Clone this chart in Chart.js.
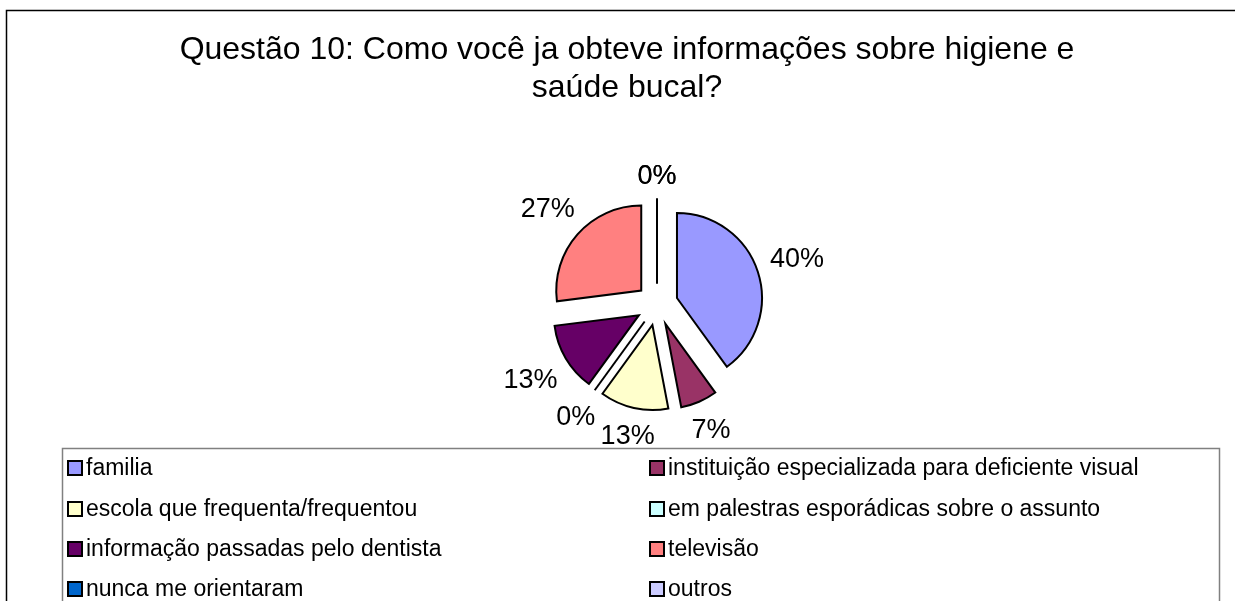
<!DOCTYPE html>
<html>
<head>
<meta charset="utf-8">
<script src="https://cdn.jsdelivr.net/npm/chart.js@4/dist/chart.umd.min.js"></script>
<style>
  body { margin: 0; background: #fff; }
  #wrap { width: 1235px; height: 601px; }
</style>
</head>
<body>
<div id="wrap"><canvas id="pie" width="1235" height="601"></canvas></div>
<script>
var titleLines = ['Questão 10: Como você ja obteve informações sobre higiene e', 'saúde bucal?'];
var categories = [
    'familia',
    'instituição especializada para deficiente visual',
    'escola que frequenta/frequentou',
    'em palestras esporádicas sobre o assunto',
    'informação passadas pelo dentista',
    'televisão',
    'nunca me orientaram',
    'outros'
];
var percents = [40, 7, 13, 0, 13, 27, 0, 0];
var colors = ['#9999FF', '#993366', '#FFFFCC', '#CCFFFF', '#660066', '#FF8080', '#0066CC', '#CCCCFF'];

var FONT = '"Liberation Sans", Arial, sans-serif';
var EXPLODE = 21;

// slices pulled out from the centre, 0% slices drawn as a line
var explodePlugin = {
    id: 'explode',
    beforeDatasetsDraw: function (chart) {
        var ctx = chart.ctx;
        var meta = chart.getDatasetMeta(0);
        meta.data.forEach(function (arc) {
            var p = arc.getProps(['x', 'y', 'startAngle', 'endAngle', 'outerRadius']);
            var mid = (p.startAngle + p.endAngle) / 2;
            ctx.save();
            ctx.translate(Math.cos(mid) * EXPLODE, Math.sin(mid) * EXPLODE);
            if (p.endAngle - p.startAngle === 0) {
                ctx.beginPath();
                ctx.moveTo(p.x, p.y);
                ctx.lineTo(p.x + Math.cos(p.startAngle) * p.outerRadius, p.y + Math.sin(p.startAngle) * p.outerRadius);
                ctx.lineWidth = 2;
                ctx.strokeStyle = '#000';
                ctx.stroke();
            } else {
                arc.draw(ctx);
            }
            ctx.restore();
        });
        return false;
    },
    afterDraw: function (chart) {
        var ctx = chart.ctx;
        var meta = chart.getDatasetMeta(0);
        var data = chart.data.datasets[0].data;
        var total = data.reduce(function (a, b) { return a + b; }, 0);
        ctx.save();

        // percentage labels
        ctx.font = '27px ' + FONT;
        ctx.fillStyle = '#000';
        ctx.textAlign = 'center';
        ctx.textBaseline = 'middle';
        meta.data.forEach(function (arc, i) {
            var p = arc.getProps(['x', 'y', 'startAngle', 'endAngle', 'outerRadius']);
            var mid = (p.startAngle + p.endAngle) / 2;
            var txt = Math.round(data[i] / total * 100) + '%';
            var w = ctx.measureText(txt).width;
            var ux = Math.cos(mid), uy = Math.sin(mid);
            var d = p.outerRadius + EXPLODE + 12 + Math.abs(ux) * w / 2 + Math.abs(uy) * 11;
            ctx.fillText(txt, p.x + ux * d, p.y + uy * d + 1);
        });

        // outer frame
        ctx.strokeStyle = '#000';
        ctx.lineWidth = 1.5;
        ctx.strokeRect(6.5, 10.5, 1300, 700);

        // title
        ctx.font = '32px ' + FONT;
        ctx.textBaseline = 'alphabetic';
        ctx.fillText(titleLines[0], 627, 59);
        ctx.fillText(titleLines[1], 627, 97);

        // legend
        ctx.strokeStyle = '#808080';
        ctx.lineWidth = 1.5;
        ctx.strokeRect(62.5, 448.5, 1157, 200);
        ctx.font = '23px ' + FONT;
        ctx.textAlign = 'left';
        ctx.textBaseline = 'middle';
        var colX = [68, 650];
        var rowY = [468, 509, 549, 589];
        chart.data.labels.forEach(function (lab, i) {
            var x = colX[i % 2], y = rowY[Math.floor(i / 2)];
            ctx.fillStyle = colors[i];
            ctx.fillRect(x, y - 7, 14, 14);
            ctx.strokeStyle = '#000';
            ctx.lineWidth = 2;
            ctx.strokeRect(x, y - 7, 14, 14);
            ctx.fillStyle = '#000';
            ctx.fillText(lab, x + 18, y + 1);
        });
        ctx.restore();
    }
};

new Chart(document.getElementById('pie').getContext('2d'), {
    type: 'pie',
    data: {
        labels: categories,
        datasets: [{
            data: percents,
            backgroundColor: colors,
            borderColor: '#000',
            borderWidth: 2,
            borderJoinStyle: 'miter',
            offset: 0,
            hoverOffset: 0,
            radius: 85
        }]
    },
    options: {
        responsive: false,
        animation: false,
        events: [],
        layout: { padding: { left: 500, right: 421, top: 180, bottom: 172 } },
        plugins: {
            legend: { display: false },
            title: { display: false },
            tooltip: { enabled: false }
        }
    },
    plugins: [explodePlugin]
});
</script>
</body>
</html>
